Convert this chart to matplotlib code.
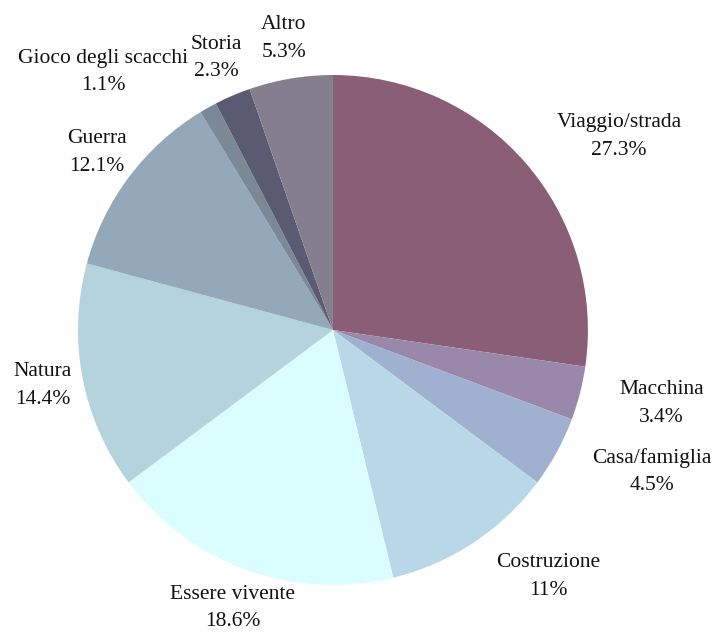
import numpy as np
import matplotlib.pyplot as plt

categories = ["Viaggio/strada", "Macchina", "Casa/famiglia", "Costruzione", "Essere vivente",
              "Natura", "Guerra", "Gioco degli scacchi", "Storia", "Altro"]
shares = [27.3, 3.4, 4.5, 11, 18.6, 14.4, 12.1, 1.1, 2.3, 5.3]
colors = ["#8b5e78", "#9a88aa", "#a0b0d0", "#b8d8e8", "#dafdff",
          "#b5d3dc", "#93a8b8", "#7a8898", "#5a5a72", "#857e8e"]
label_align = ["left", "left", "left", "left", "center",
               "center", "center", "right", "center", "center"]

plt.rcParams["font.family"] = ["Liberation Serif", "DejaVu Serif"]

fig = plt.figure(figsize=(7.2, 6.37), dpi=100)
ax = fig.add_axes([0, 0, 1, 1])

wedges, _ = ax.pie(shares, colors=colors, startangle=90, counterclock=False,
                   wedgeprops=dict(linewidth=0))

for w, name, val, ha in zip(wedges, categories, shares, label_align):
    mid = np.deg2rad((w.theta1 + w.theta2) / 2)
    r = 1.16
    ax.text(r * np.cos(mid), r * np.sin(mid), f"{name}\n{val:g}%",
            ha=ha, va="center", multialignment="center",
            fontsize=15.5, linespacing=1.6, color="#111111")

ax.set_xlim(-1.306, 1.518)
ax.set_ylim(-1.204, 1.294)
ax.set_aspect("equal")
ax.axis("off")

fig.savefig("out.png", dpi=100)
